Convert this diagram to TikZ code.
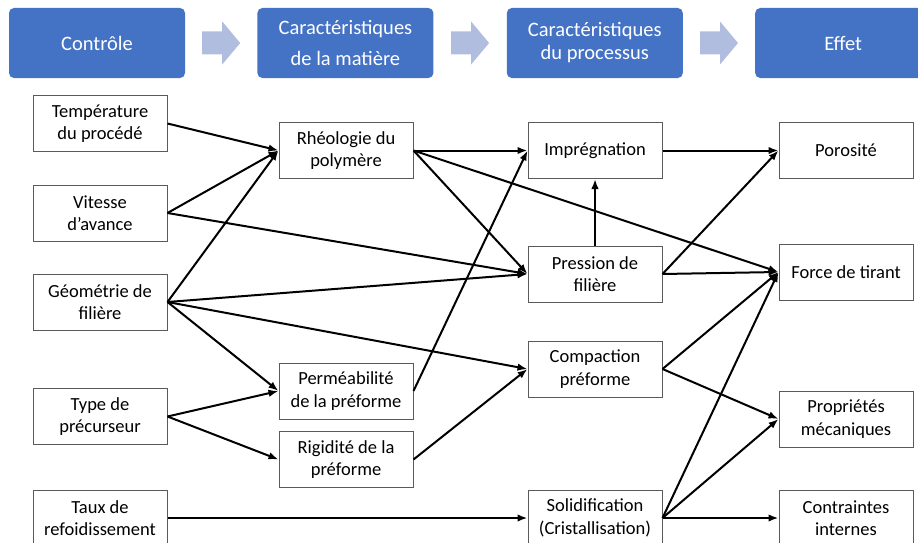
\documentclass[tikz,border=0pt]{standalone}
\usepackage{fontspec}
\setmainfont{Carlito}
\definecolor{HeadBlue}{RGB}{68,114,196}
\definecolor{FlowGrey}{RGB}{177,189,222}
\definecolor{BoxEdge}{RGB}{90,90,90}
\usetikzlibrary{positioning,arrows.meta,calc}

\begin{document}
\begin{tikzpicture}[x=1pt, y=-1pt,
      every node/.style={align=center},
      head/.style={fill=HeadBlue, text=white, rounded corners=5pt,
                   minimum width=176pt, minimum height=70pt, inner sep=2pt,
                   font=\fontsize{20.5}{23}\selectfont},
      box/.style={draw=BoxEdge, line width=1pt, fill=white,
                  minimum width=134pt, minimum height=56pt, inner sep=3pt,
                  font=\fontsize{18.5}{22.5}\selectfont},
      arr/.style={-{Latex[length=10pt,width=7.5pt]}, line width=2pt},
      pics/flow/.style={code={
        \fill[FlowGrey] (-19,-11.5) -- (1,-11.5) -- (1,-21.5) -- (19,0)
          -- (1,21.5) -- (1,11.5) -- (-19,11.5) -- cycle;}}
  ]
    \useasboundingbox (0,0) rectangle (918,543);
    % header
    \node[head] at (97,43) (ctrl) {Contrôle};
    \node[head, right=72pt of ctrl] (mat) {Caractéristiques\\[8pt]de la matière};
    \node[head, right=73pt of mat] (proc) {Caractéristiques\\du processus};
    \node[head, right=72pt of proc] (eff) {Effet};
    \pic at ($(ctrl.east)!0.5!(mat.west)$) {flow};
    \pic at ($(mat.east)!0.5!(proc.west)$) {flow};
    \pic at ($(proc.east)!0.5!(eff.west)$) {flow};
    % control
    \node[box] at (100,123.5) (temp) {Température\\du procédé};
    \node[box, below=32.5pt of temp] (speed) {Vitesse\\d’avance};
    \node[box, below=32pt of speed] (geom) {Géométrie de\\filière};
    \node[box, below=57.5pt of geom] (prec) {Type de\\précurseur};
    \node[box, below=44.5pt of prec] (cool) {Taux de\\refoidissement};
    % material
    \node[box, right=111pt of temp, yshift=-27pt] (rheo) {Rhéologie du\\polymère};
    \node[box, below=183.5pt of rheo] (perm) {Perméabilité\\de la préforme};
    \node[box, below=11.5pt of perm] (rigid) {Rigidité de la\\préforme};
    % process
    \node[box, right=114pt of rheo] (impr) {Imprégnation};
    \node[box, below=66.5pt of impr] (press) {Pression de\\filière};
    \node[box, below=38pt of press] (comp) {Compaction\\préforme};
    \node[box, below=92pt of comp] (solid) {Solidification\\(Cristallisation)};
    % effect
    \node[box, right=116pt of impr] (poro) {Porosité};
    \node[box, below=64.5pt of poro] (pull) {Force de tirant};
    \node[box, below=90pt of pull] (mech) {Propriétés\\mécaniques};
    \node[box, below=42pt of mech] (stress) {Contraintes\\internes};
    % links
    \draw[arr] (temp.east) -- (rheo.west);
    \draw[arr] (speed.east) -- (rheo.west);
    \draw[arr] (speed.east) -- (press.west);
    \draw[arr] (geom.east) -- (rheo.west);
    \draw[arr] (geom.east) -- (press.west);
    \draw[arr] (geom.east) -- (perm.west);
    \draw[arr] (geom.east) -- (comp.west);
    \draw[arr] (prec.east) -- (perm.west);
    \draw[arr] (prec.east) -- (rigid.west);
    \draw[arr] (cool.east) -- (solid.west);
    \draw[arr] (rheo.east) -- (impr.west);
    \draw[arr] (rheo.east) -- (press.west);
    \draw[arr] (rheo.east) -- (pull.west);
    \draw[arr] (perm.east) -- (impr.west);
    \draw[arr] (rigid.east) -- (comp.west);
    \draw[arr] (press.north) -- (impr.south);
    \draw[arr] (impr.east) -- (poro.west);
    \draw[arr] (press.east) -- (poro.west);
    \draw[arr] (press.east) -- (pull.west);
    \draw[arr] (comp.east) -- (pull.west);
    \draw[arr] (comp.east) -- (mech.west);
    \draw[arr] (solid.east) -- (pull.west);
    \draw[arr] (solid.east) -- (mech.west);
    \draw[arr] (solid.east) -- (stress.west);
  \end{tikzpicture}
\end{document}
